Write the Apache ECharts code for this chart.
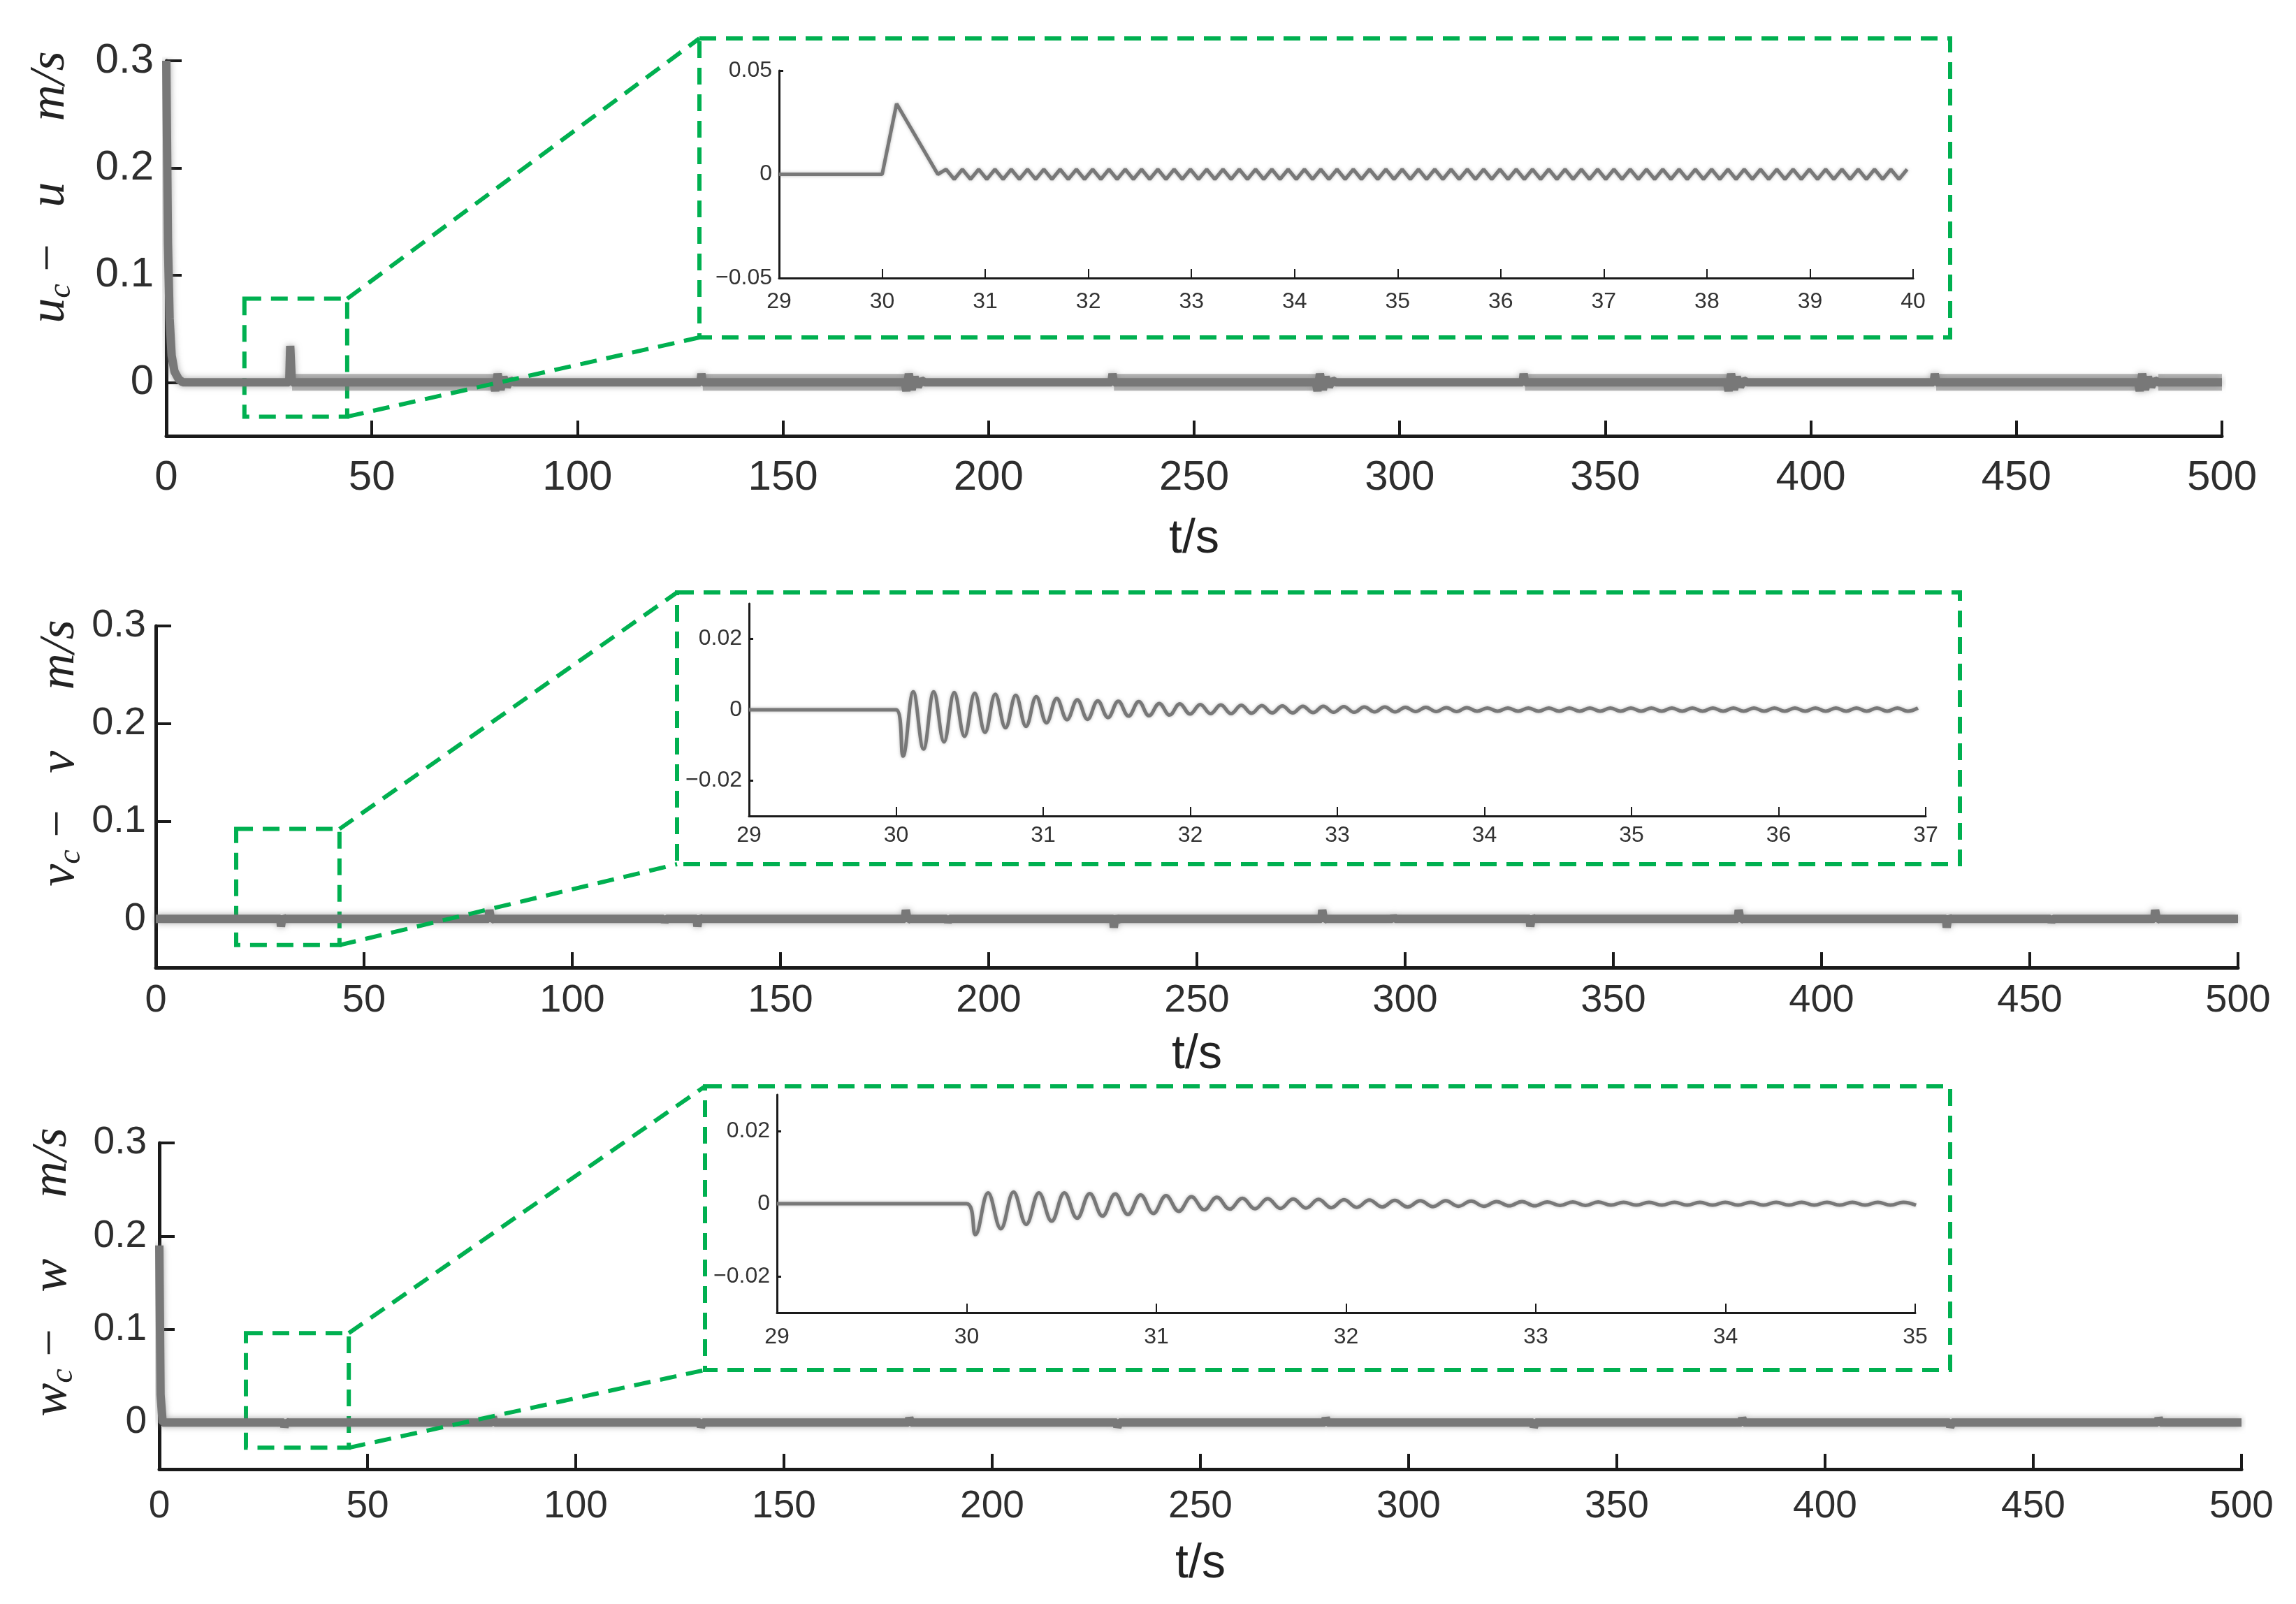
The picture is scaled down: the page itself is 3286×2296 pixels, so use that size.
<!DOCTYPE html>
<html>
<head>
<meta charset="utf-8">
<script src="https://cdn.jsdelivr.net/npm/echarts@6/dist/echarts.min.js"></script>
<style>
  html, body { margin: 0; padding: 0; background: #fff; }
  #chart { width: 3286px; height: 2296px; }
</style>
</head>
<body>
<div id="chart"></div>
<script>
// ---------- data ----------
const mainYTicks = [0, 0.1, 0.2, 0.3];
const insetYTicks = [-0.02, 0, 0.02];

// u_c - u over 0..500 s  [t, value]
const uMain = [
  [0, 0.3], [0.4, 0.13], [0.8, 0.06], [1.3, 0.025], [2, 0.01], [3, 0.003], [4, 0],
  [29.9, 0], [30.14, 0.034], [30.54, 0],
  [79.6, 0], [80.0, -0.008], [80.6, 0.008], [81.3, -0.007], [82.0, 0.005], [82.8, -0.004], [83.6, 0.002], [84.5, 0],
  [129.9, 0], [130.15, 0.008], [130.5, 0],
  [179.6, 0], [180.0, -0.008], [180.6, 0.008], [181.3, -0.007], [182.0, 0.005], [182.8, -0.004], [183.6, 0.002], [184.5, 0],
  [229.9, 0], [230.15, 0.008], [230.5, 0],
  [279.6, 0], [280.0, -0.008], [280.6, 0.008], [281.3, -0.007], [282.0, 0.005], [282.8, -0.004], [283.6, 0.002], [284.5, 0],
  [329.9, 0], [330.15, 0.008], [330.5, 0],
  [379.6, 0], [380.0, -0.008], [380.6, 0.008], [381.3, -0.007], [382.0, 0.005], [382.8, -0.004], [383.6, 0.002], [384.5, 0],
  [429.9, 0], [430.15, 0.008], [430.5, 0],
  [479.6, 0], [480.0, -0.008], [480.6, 0.008], [481.3, -0.007], [482.0, 0.005], [482.8, -0.004], [483.6, 0.002], [484.5, 0],
  [500, 0]
];
// stretches where u shows the fine ripple (drawn as a soft band)
const uRipple = [
  [30.6, 0], [79.6, 0], [80, '-'],
  [130.5, 0], [179.6, 0], [180, '-'],
  [230.5, 0], [279.6, 0], [280, '-'],
  [330.5, 0], [379.6, 0], [380, '-'],
  [430.5, 0], [479.6, 0], [480, '-'],
  [484.5, 0], [500, 0]
];

// v_c - v
const vMain = [
  [0, 0], [29.9, 0], [30.05, -0.008], [30.4, 0.002], [30.8, 0],
  [79.9, 0], [80.1, 0.009], [80.5, -0.001], [81, 0],
  [121.9, 0], [122.2, -0.003], [122.6, 0],
  [129.9, 0], [130.05, -0.008], [130.4, 0.002], [130.8, 0],
  [179.9, 0], [180.1, 0.009], [180.5, -0.001], [181, 0],
  [189.9, 0], [190.2, -0.003], [190.6, 0],
  [229.9, 0], [230.05, -0.009], [230.4, 0.003], [230.8, -0.002], [231.3, 0],
  [279.9, 0], [280.1, 0.009], [280.5, -0.001], [281, 0],
  [296.9, 0], [297.2, 0.002], [297.6, 0],
  [329.9, 0], [330.05, -0.008], [330.4, 0.002], [330.8, 0],
  [379.9, 0], [380.1, 0.009], [380.5, -0.001], [381, 0],
  [429.9, 0], [430.05, -0.009], [430.4, 0.002], [430.8, 0],
  [454.9, 0], [455.2, -0.003], [455.6, 0],
  [479.9, 0], [480.1, 0.009], [480.5, -0.001], [481, 0],
  [500, 0]
];

// w_c - w
const wMain = [
  [0, 0.19], [0.3, 0.03], [0.8, 0],
  [29.9, 0], [30.05, -0.005], [30.4, 0.001], [30.8, 0],
  [79.9, 0], [80.1, 0.006], [80.5, 0],
  [129.9, 0], [130.05, -0.005], [130.5, 0],
  [179.9, 0], [180.1, 0.005], [180.5, 0],
  [229.9, 0], [230.05, -0.005], [230.5, 0],
  [279.9, 0], [280.1, 0.005], [280.5, 0],
  [329.9, 0], [330.05, -0.005], [330.5, 0],
  [379.9, 0], [380.1, 0.005], [380.5, 0],
  [429.9, 0], [430.05, -0.005], [430.5, 0],
  [479.9, 0], [480.1, 0.005], [480.5, 0],
  [500, 0]
];

// zoomed windows, [t, value] of the lead-in, then the extrema of the ripple
const uInsetLead = [[29, 0], [30, 0], [30.14, 0.034], [30.54, 0]];
const uInsetT0 = 30.62, uInsetHalfPeriod = 0.079;
const uInsetPeaks = [
  0.0024, -0.0024, 0.0024, -0.0024, 0.0024, -0.0024, 0.0024, -0.0024, 0.0024, -0.0024,
  0.0024, -0.0024, 0.0024, -0.0024, 0.0024, -0.0024, 0.0024, -0.0024, 0.0024, -0.0024,
  0.0024, -0.0024, 0.0024, -0.0024, 0.0024, -0.0024, 0.0024, -0.0024, 0.0024, -0.0024,
  0.0024, -0.0024, 0.0024, -0.0024, 0.0024, -0.0024, 0.0024, -0.0024, 0.0024, -0.0024,
  0.0024, -0.0024, 0.0024, -0.0024, 0.0024, -0.0024, 0.0024, -0.0024, 0.0024, -0.0024,
  0.0024, -0.0024, 0.0024, -0.0024, 0.0024, -0.0024, 0.0024, -0.0024, 0.0024, -0.0024,
  0.0024, -0.0024, 0.0024, -0.0024, 0.0024, -0.0024, 0.0024, -0.0024, 0.0024, -0.0024,
  0.0024, -0.0024, 0.0024, -0.0024, 0.0024, -0.0024, 0.0024, -0.0024, 0.0024, -0.0024,
  0.0024, -0.0024, 0.0024, -0.0024, 0.0024, -0.0024, 0.0024, -0.0024, 0.0024, -0.0024,
  0.0024, -0.0024, 0.0024, -0.0024, 0.0024, -0.0024, 0.0024, -0.0024, 0.0024, -0.0024,
  0.0024, -0.0024, 0.0024, -0.0024, 0.0024, -0.0024, 0.0024, -0.0024, 0.0024, -0.0024,
  0.0024, -0.0024, 0.0024, -0.0024, 0.0024, -0.0024, 0.0024, -0.0024, 0.0024
];

const vInsetLead = [[29, 0], [30, 0]];
const vInsetT0 = 30.047, vInsetHalfPeriod = 0.0697;
const vInsetPeaks = [
  -0.0131, 0.0051, -0.0111, 0.0051, -0.0091, 0.0049, -0.0075, 0.0047, -0.0064, 0.0044,
  -0.0051, 0.0041, -0.0047, 0.0037, -0.0037, 0.0032, -0.0028, 0.0028, -0.0027, 0.0025,
  -0.0022, 0.0024, -0.0018, 0.0023, -0.0017, 0.0018, -0.0015, 0.0017, -0.0012, 0.0015,
  -0.0011, 0.0014, -0.0011, 0.0013, -0.0010, 0.0012, -0.0009, 0.0011, -0.0009, 0.0010,
  -0.0008, 0.0010, -0.0007, 0.0009, -0.0007, 0.0008, -0.0006, 0.0008, -0.0006, 0.0007,
  -0.0005, 0.0007, -0.0005, 0.0006, -0.0005, 0.0006, -0.0004, 0.0005, -0.0004, 0.0005,
  -0.0004, 0.0005, -0.0004, 0.0005, -0.0004, 0.0005, -0.0004, 0.0005, -0.0004, 0.0005,
  -0.0004, 0.0005, -0.0004, 0.0005, -0.0004, 0.0005, -0.0004, 0.0005, -0.0004, 0.0005,
  -0.0004, 0.0005, -0.0004, 0.0005, -0.0004, 0.0005, -0.0004, 0.0005, -0.0004, 0.0005,
  -0.0004, 0.0005, -0.0004, 0.0005, -0.0004, 0.0005, -0.0004, 0.0005, -0.0004, 0.0005
];

const wInsetLead = [[29, 0], [30, 0]];
const wInsetT0 = 30.046, wInsetHalfPeriod = 0.067;
const wInsetPeaks = [
  -0.0085, 0.0030, -0.0069, 0.0032, -0.0057, 0.0030, -0.0048, 0.0030, -0.0040, 0.0028,
  -0.0034, 0.0027, -0.0030, 0.0024, -0.0027, 0.0022, -0.0021, 0.0019, -0.0017, 0.0018,
  -0.0015, 0.0015, -0.0014, 0.0014, -0.0013, 0.0013, -0.0012, 0.0012, -0.0011, 0.0011,
  -0.0010, 0.0010, -0.0009, 0.0009, -0.0009, 0.0008, -0.0008, 0.0008, -0.0007, 0.0007,
  -0.0007, 0.0006, -0.0006, 0.0006, -0.0006, 0.0005, -0.0005, 0.0005, -0.0005, 0.0005,
  -0.0004, 0.0004, -0.0004, 0.0004, -0.0004, 0.0004, -0.0004, 0.0004, -0.0004, 0.0004,
  -0.0004, 0.0004, -0.0004, 0.0004, -0.0004, 0.0004, -0.0004, 0.0004, -0.0004, 0.0004,
  -0.0004, 0.0004, -0.0004, 0.0004, -0.0004
];

// the dashed "zoom" boxes in data coordinates: [left/top], [right/bottom]
const uZoomBox = [[19, 0.078], [44, -0.032]];
const vZoomBox = [[19.3, 0.092], [44.1, -0.027]];
const wZoomBox = [[20.8, 0.096], [45.5, -0.027]];

// ---------- layout ----------
const SANS = '"Liberation Sans", Arial, sans-serif';
const SERIF = '"Liberation Serif", "Times New Roman", serif';
const INK = '#1a1a1a';
const GRAY = '#787878';
const GREEN = '#00b050';
const DASH = [24, 14];

const mainLayout = [
  { left: 238, top: 87, width: 2942, height: 537, font: 60, xMargin: 30, yMargin: 18, nameGap: 114 },
  { left: 223, top: 896, width: 2980, height: 489, font: 56, xMargin: 20, yMargin: 14, nameGap: 91 },
  { left: 228, top: 1636, width: 2980, height: 467, font: 55, xMargin: 26, yMargin: 18, nameGap: 102 }
];
const insetLayout = [
  { left: 1115, top: 101, width: 1623, height: 297, xMax: 40, yMin: -0.05, yMax: 0.05, xMargin: 18 },
  { left: 1072, top: 864, width: 1684, height: 304, xMax: 37, yMin: -0.03, yMax: 0.03, xMargin: 12 },
  { left: 1112, top: 1567, width: 1629, height: 312, xMax: 35, yMin: -0.03, yMax: 0.03, xMargin: 19 }
];
const insetFrames = [
  { x: 1001, y: 55, w: 1790, h: 428 },
  { x: 969, y: 848, w: 1836, h: 389 },
  { x: 1009, y: 1555, w: 1782, h: 406 }
];
const yNames = [
  { sym: 'u', x: 72, y: 268 },
  { sym: 'v', x: 86, y: 1078 },
  { sym: 'w', x: 75, y: 1821 }
];

function ripple(lead, t0, step, peaks) {
  return lead.concat(peaks.map((v, i) => [t0 + i * step, v]));
}

const fmtSigned = (digits) => (v) => {
  if (Math.abs(v) < 1e-9) return '0';
  return (v < 0 ? '\u2212' : '') + Math.abs(v).toFixed(digits);
};

const grids = mainLayout.map(g => ({
  left: g.left, top: g.top, width: g.width, height: g.height,
  containLabel: false, outerBoundsMode: 'none'
})).concat(insetLayout.map(g => ({
  left: g.left, top: g.top, width: g.width, height: g.height,
  containLabel: false, outerBoundsMode: 'none'
})));

const xAxes = mainLayout.map((g, i) => ({
  type: 'value', gridIndex: i, min: 0, max: 500, interval: 50,
  name: 't/s', nameLocation: 'middle', nameGap: g.nameGap,
  nameTextStyle: { fontFamily: SANS, fontSize: 68, color: '#222' },
  axisLine: { onZero: false, lineStyle: { color: INK, width: 5 } },
  axisTick: { inside: true, length: 22, lineStyle: { color: INK, width: 4 } },
  axisLabel: { margin: g.xMargin, fontFamily: SANS, fontSize: g.font, color: '#2e2e2e' },
  splitLine: { show: false }
})).concat(insetLayout.map((g, i) => ({
  type: 'value', gridIndex: 3 + i, min: 29, max: g.xMax, interval: 1,
  axisLine: { onZero: false, lineStyle: { color: INK, width: 3 } },
  axisTick: { inside: true, length: 13, lineStyle: { color: INK, width: 2 } },
  axisLabel: { margin: g.xMargin, fontFamily: SANS, fontSize: 32, color: '#333' },
  splitLine: { show: false }
})));

const yAxes = mainLayout.map((g, i) => ({
  type: 'value', gridIndex: i, min: -0.05, max: 0.3,
  axisLine: { onZero: false, lineStyle: { color: INK, width: 5 } },
  axisTick: { inside: true, length: 22, customValues: mainYTicks, lineStyle: { color: INK, width: 4 } },
  axisLabel: {
    margin: g.yMargin, fontFamily: SANS, fontSize: g.font, color: '#2e2e2e',
    customValues: mainYTicks, formatter: v => (v === 0 ? '0' : String(v))
  },
  splitLine: { show: false }
})).concat(insetLayout.map((g, i) => {
  const ax = {
    type: 'value', gridIndex: 3 + i, min: g.yMin, max: g.yMax,
    axisLine: { onZero: false, lineStyle: { color: INK, width: 3 } },
    axisTick: { inside: true, length: 6, lineStyle: { color: INK, width: 3 } },
    axisLabel: { margin: 10, fontFamily: SANS, fontSize: 32, color: '#333', formatter: fmtSigned(2) },
    splitLine: { show: false }
  };
  if (i === 0) {
    ax.interval = 0.05;
  } else {
    ax.axisTick.customValues = insetYTicks;
    ax.axisLabel.customValues = insetYTicks;
  }
  return ax;
}));

const mainLine = {
  width: 12, color: GRAY,
  shadowBlur: 10, shadowColor: 'rgba(110,110,110,0.6)'
};
const insetLine = {
  width: 5, color: GRAY, shadowBlur: 4, shadowColor: 'rgba(120,120,120,0.5)'
};
const zoomBoxStyle = {
  color: 'rgba(0,0,0,0)', borderColor: GREEN, borderWidth: 6, borderType: DASH
};
function zoomArea(box) {
  return {
    silent: true, itemStyle: zoomBoxStyle, label: { show: false },
    data: [[{ coord: box[0] }, { coord: box[1] }]]
  };
}

const series = [
  {
    type: 'line', xAxisIndex: 0, yAxisIndex: 0, data: uRipple, showSymbol: false, z: 1,
    lineStyle: { width: 24, color: 'rgba(125,125,125,0.55)' }
  },
  {
    type: 'line', xAxisIndex: 0, yAxisIndex: 0, data: uMain, showSymbol: false, z: 3,
    lineStyle: mainLine, markArea: zoomArea(uZoomBox)
  },
  {
    type: 'line', xAxisIndex: 1, yAxisIndex: 1, data: vMain, showSymbol: false, z: 3,
    lineStyle: mainLine, markArea: zoomArea(vZoomBox)
  },
  {
    type: 'line', xAxisIndex: 2, yAxisIndex: 2, data: wMain, showSymbol: false, z: 3,
    lineStyle: mainLine, markArea: zoomArea(wZoomBox)
  },
  {
    type: 'line', xAxisIndex: 3, yAxisIndex: 3, showSymbol: false,
    data: ripple(uInsetLead, uInsetT0, uInsetHalfPeriod, uInsetPeaks),
    lineStyle: insetLine
  },
  {
    type: 'line', xAxisIndex: 4, yAxisIndex: 4, showSymbol: false, smooth: 0.4,
    data: ripple(vInsetLead, vInsetT0, vInsetHalfPeriod, vInsetPeaks),
    lineStyle: insetLine
  },
  {
    type: 'line', xAxisIndex: 5, yAxisIndex: 5, showSymbol: false, smooth: 0.4,
    data: ripple(wInsetLead, wInsetT0, wInsetHalfPeriod, wInsetPeaks),
    lineStyle: insetLine
  }
];

const chart = echarts.init(document.getElementById('chart'));
chart.setOption({
  animation: false,
  backgroundColor: '#ffffff',
  grid: grids,
  xAxis: xAxes,
  yAxis: yAxes,
  series: series
});

// dashed frames round the insets, connectors, and the rotated y titles
const graphic = [];
[uZoomBox, vZoomBox, wZoomBox].forEach((box, i) => {
  const f = insetFrames[i];
  const tr = chart.convertToPixel({ gridIndex: i }, [box[1][0], box[0][1]]);
  const br = chart.convertToPixel({ gridIndex: i }, [box[1][0], box[1][1]]);
  graphic.push({
    type: 'rect', z: 10,
    shape: { x: f.x, y: f.y, width: f.w, height: f.h },
    style: { fill: null, stroke: GREEN, lineWidth: 6, lineDash: DASH }
  });
  graphic.push({
    type: 'line', z: 10,
    shape: { x1: tr[0], y1: tr[1], x2: f.x, y2: f.y },
    style: { stroke: GREEN, lineWidth: 6, lineDash: DASH }
  });
  graphic.push({
    type: 'line', z: 10,
    shape: { x1: br[0], y1: br[1], x2: f.x, y2: f.y + f.h },
    style: { stroke: GREEN, lineWidth: 6, lineDash: DASH }
  });
});
yNames.forEach(n => {
  graphic.push({
    type: 'text', x: n.x, y: n.y, rotation: Math.PI / 2, z: 10,
    style: {
      text: '{i|' + n.sym + '}{s|c}{n| \u2212   }{i|' + n.sym + '}{n|     }{i|m/s}',
      align: 'center', verticalAlign: 'middle',
      textAlign: 'center', textVerticalAlign: 'middle',
      fill: '#222', fontFamily: SERIF, fontSize: 70,
      rich: {
        i: { fontFamily: SERIF, fontStyle: 'italic', fontSize: 72, lineHeight: 78, verticalAlign: 'middle', color: '#222' },
        s: { fontFamily: SERIF, fontStyle: 'italic', fontSize: 46, lineHeight: 46, verticalAlign: 'bottom', color: '#222' },
        n: { fontFamily: SERIF, fontSize: 70, lineHeight: 78, verticalAlign: 'middle', color: '#222' }
      }
    }
  });
});
chart.setOption({ graphic: graphic });
</script>
</body>
</html>
